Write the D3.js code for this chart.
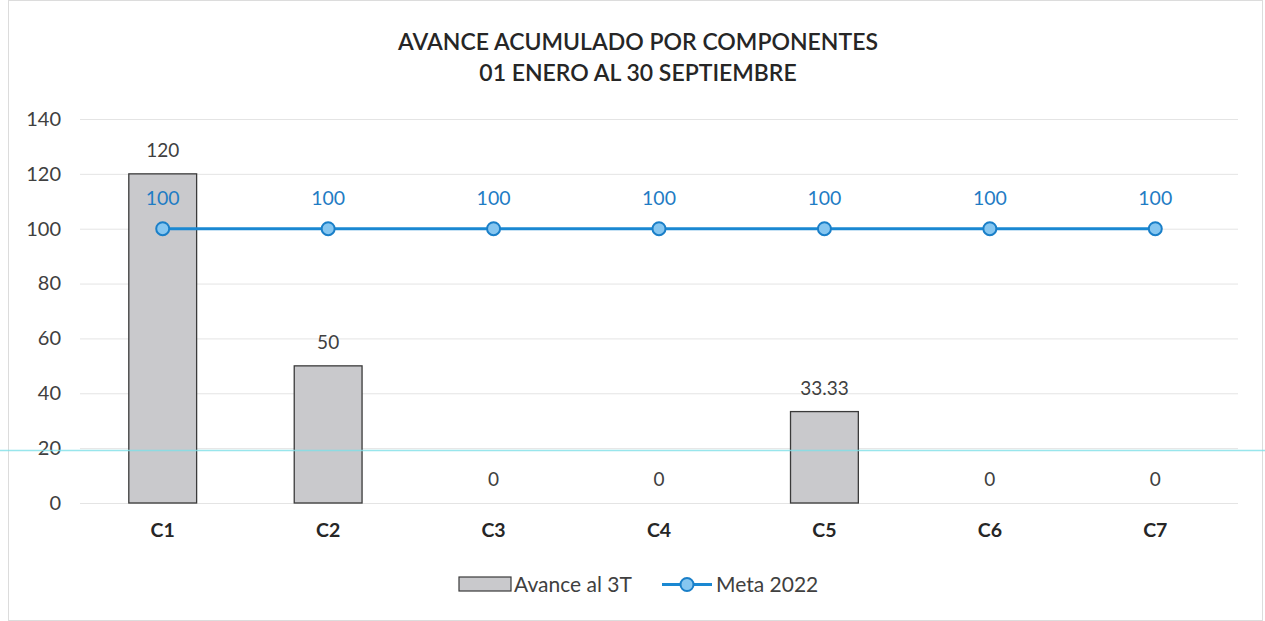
<!DOCTYPE html>
<html>
<head>
<meta charset="utf-8">
<script src="https://cdn.jsdelivr.net/npm/d3@7"></script>
<style>
  html, body { margin: 0; padding: 0; background: #fff; }
  svg { display: block; font-family: Lato, "Open Sans", sans-serif; }
</style>
</head>
<body>
<svg id="chart" width="1265" height="621"></svg>
<script>
// Components and series
const categories = ["C1", "C2", "C3", "C4", "C5", "C6", "C7"];
const avance = [120, 50, 0, 0, 33.33, 0, 0];
const meta = [100, 100, 100, 100, 100, 100, 100];
const yTicks = [0, 20, 40, 60, 80, 100, 120, 140];
const titleLines = ["AVANCE ACUMULADO POR COMPONENTES", "01 ENERO AL 30 SEPTIEMBRE"];
const seriesNames = ["Avance al 3T", "Meta 2022"];

const svg = d3.select("#chart");
const W = 1265, H = 621;
const margin = { left: 80, right: 27, top: 119, bottom: 118 };
const FONT = "Lato, 'Open Sans', sans-serif";

// Outer chart frame
svg.append("rect")
  .attr("x", 8.5).attr("y", 0.5)
  .attr("width", 1254).attr("height", 620)
  .attr("fill", "#fff").attr("stroke", "#dcdcdc").attr("stroke-width", 1);

const x = d3.scaleBand()
  .domain(categories)
  .range([margin.left, W - margin.right])
  .paddingInner(0.59).paddingOuter(0.295);

const y = d3.scaleLinear()
  .domain([0, 140])
  .range([H - margin.bottom, margin.top]);

// Title
svg.append("g").selectAll("text")
  .data(titleLines).join("text")
  .attr("x", 638).attr("y", (d, i) => 50 + i * 31)
  .attr("text-anchor", "middle")
  .attr("font-size", 23).attr("font-weight", 600)
  .attr("fill", "#262626")
  .text(d => d);

// Horizontal gridlines
svg.append("g").selectAll("line")
  .data(yTicks).join("line")
  .attr("x1", margin.left).attr("x2", W - margin.right)
  .attr("y1", d => y(d) + 0.5).attr("y2", d => y(d) + 0.5)
  .attr("stroke", "#e4e4e4").attr("stroke-width", 1);

// Y axis labels
const yAxis = d3.axisLeft(y).tickValues(yTicks).tickSize(0).tickPadding(0);
const gy = svg.append("g").attr("transform", `translate(${margin.left - 19},0)`).call(yAxis);
gy.select(".domain").remove();
gy.selectAll("text").attr("font-size", 20).attr("fill", "#404040").attr("font-family", FONT);

// X axis labels
const xAxis = d3.axisBottom(x).tickSize(0).tickPadding(0);
const gx = svg.append("g").attr("transform", `translate(0,${y(0) + 20})`).call(xAxis);
gx.select(".domain").remove();
gx.selectAll("text").attr("font-size", 19.5).attr("font-weight", 700).attr("fill", "#262626")
  .attr("font-family", FONT);

// Bars
svg.append("g").selectAll("rect")
  .data(categories).join("rect")
  .attr("x", d => x(d))
  .attr("y", (d, i) => y(avance[i]))
  .attr("width", x.bandwidth())
  .attr("height", (d, i) => y(0) - y(avance[i]))
  .attr("fill", "#c9c9cc")
  .attr("stroke", "#3a3a3a").attr("stroke-width", 1.3);

// Bar value labels
svg.append("g").selectAll("text")
  .data(categories).join("text")
  .attr("x", d => x(d) + x.bandwidth() / 2)
  .attr("y", (d, i) => y(avance[i]) - 17)
  .attr("text-anchor", "middle")
  .attr("font-size", 19).attr("fill", "#404040")
  .text((d, i) => avance[i]);

// Faint cyan horizontal streak across the sheet
svg.append("line")
  .attr("x1", 0).attr("x2", W)
  .attr("y1", 450.5).attr("y2", 450.5)
  .attr("stroke", "#7fe0e8").attr("stroke-width", 1.6).attr("opacity", 0.8);

// Meta line with markers
const cx = d => x(d) + x.bandwidth() / 2;
svg.append("path")
  .datum(categories)
  .attr("d", d3.line().x(d => cx(d)).y(d => y(meta[categories.indexOf(d)])))
  .attr("fill", "none").attr("stroke", "#1a88d2").attr("stroke-width", 3);

svg.append("g").selectAll("circle")
  .data(categories).join("circle")
  .attr("cx", d => cx(d)).attr("cy", (d, i) => y(meta[i]))
  .attr("r", 6.5)
  .attr("fill", "#86c6f0").attr("stroke", "#1a7fc8").attr("stroke-width", 2);

svg.append("g").selectAll("text")
  .data(categories).join("text")
  .attr("x", d => cx(d)).attr("y", (d, i) => y(meta[i]) - 24)
  .attr("text-anchor", "middle")
  .attr("font-size", 19.5).attr("fill", "#1f7cc4")
  .text((d, i) => meta[i]);

// Legend
const lg = svg.append("g");
lg.append("rect").attr("x", 459).attr("y", 577).attr("width", 52).attr("height", 14)
  .attr("fill", "#c9c9cc").attr("stroke", "#3a3a3a").attr("stroke-width", 1.2);
lg.append("text").attr("x", 514).attr("y", 592).attr("font-size", 21).attr("fill", "#404040")
  .text(seriesNames[0]);
lg.append("line").attr("x1", 662).attr("x2", 712).attr("y1", 584.5).attr("y2", 584.5)
  .attr("stroke", "#1a88d2").attr("stroke-width", 3);
lg.append("circle").attr("cx", 687).attr("cy", 584.5).attr("r", 6.5)
  .attr("fill", "#86c6f0").attr("stroke", "#1a7fc8").attr("stroke-width", 2);
lg.append("text").attr("x", 716).attr("y", 592).attr("font-size", 21).attr("fill", "#404040")
  .text(seriesNames[1]);
</script>
</body>
</html>
